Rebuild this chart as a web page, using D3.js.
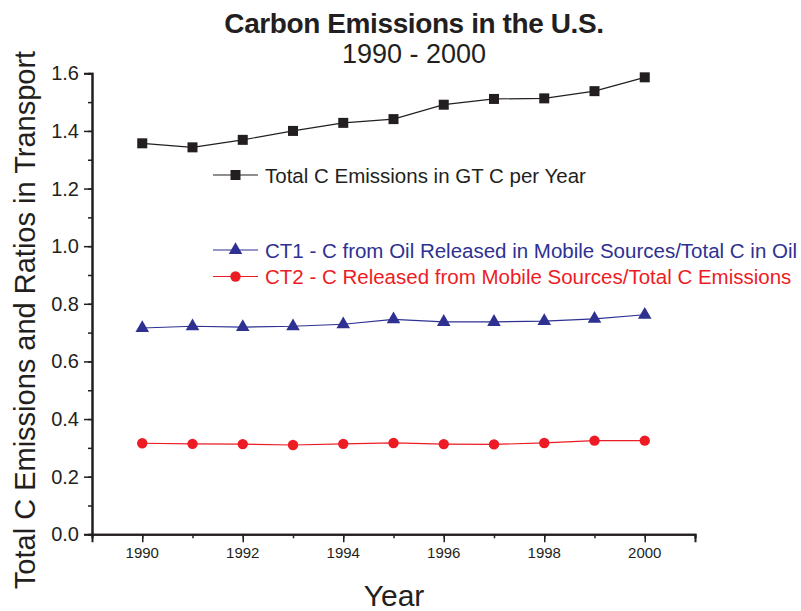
<!DOCTYPE html>
<html lang="en">
<head>
  <meta charset="utf-8">
  <title>Carbon Emissions in the U.S.</title>
  <script src="https://d3js.org/d3.v7.min.js"></script>
  <style>
    body { margin: 0; background: #fff; }
    text { font-family: "Liberation Sans", Arial, sans-serif; }
  </style>
</head>
<body>
	<script type="text/javascript">

	var svg_width = 801;
	var svg_height = 611;

	// data
	var years = [1990, 1991, 1992, 1993, 1994, 1995, 1996, 1997, 1998, 1999, 2000];
	var totalC = [1.357, 1.343, 1.369, 1.400, 1.428, 1.441, 1.491, 1.511, 1.513, 1.538, 1.586];
	var ct1 = [0.716, 0.722, 0.719, 0.722, 0.729, 0.746, 0.737, 0.737, 0.740, 0.748, 0.762];
	var ct2 = [0.316, 0.314, 0.313, 0.310, 0.314, 0.317, 0.313, 0.312, 0.317, 0.325, 0.325];
	var xTicks = [1990, 1992, 1994, 1996, 1998, 2000];
	var yTicks = [0.0, 0.2, 0.4, 0.6, 0.8, 1.0, 1.2, 1.4, 1.6];

	var seriesNames = ["Total C Emissions in GT C per Year",
		"CT1 - C from Oil Released in Mobile Sources/Total C in Oil",
		"CT2 - C Released from Mobile Sources/Total C Emissions"];

	var black = "#231f20", blue = "#2e3192", red = "#ed1c24";

	var series = [
		{ name: seriesNames[0], values: totalC, color: black, shape: "square" },
		{ name: seriesNames[1], values: ct1, color: blue, shape: "triangle" },
		{ name: seriesNames[2], values: ct2, color: red, shape: "circle" }
	];

	var svg = d3.select("body")
				.append("svg")
				.attr("width", svg_width)
				.attr("height", svg_height);

	var x = d3.scaleLinear().domain([1989, 2001]).range([92, 695]);
	var y = d3.scaleLinear().domain([0, 1.6]).range([534.3, 73.3]);

	// axes: minor ticks from one axis, major ticks from another
	var xMinor = svg.append("g").attr("transform", "translate(0," + y(0) + ")")
		.call(d3.axisBottom(x).tickValues(d3.range(1989, 2002)).tickSize(4).tickFormat(""));
	var xMajor = svg.append("g").attr("transform", "translate(0," + y(0) + ")")
		.call(d3.axisBottom(x).tickValues(xTicks).tickSize(8).tickFormat(""));

	var yMinor = svg.append("g").attr("transform", "translate(" + x(1989) + ",0)")
		.call(d3.axisLeft(y).tickValues(d3.range(0, 17).map(function(i) { return i / 10; })).tickSize(4).tickFormat(""));
	var yMajor = svg.append("g").attr("transform", "translate(" + x(1989) + ",0)")
		.call(d3.axisLeft(y).tickValues(yTicks).tickSize(8).tickFormat(""));

	[xMinor, xMajor, yMinor, yMajor].forEach(function(a) {
		a.selectAll("path").attr("stroke-width", 2).attr("stroke", black);
		a.selectAll("line").attr("stroke-width", 1.5).attr("stroke", black);
	});

	// tick labels
	svg.append("g").selectAll("text")
		.data(xTicks)
		.enter()
			.append("text")
			.text(function(d) { return d; })
			.attr("x", function(d) { return x(d); })
			.attr("y", y(0) + 24)
			.attr("text-anchor", "middle")
			.style("font-size", "15px")
			.attr("fill", black);

	svg.append("g").selectAll("text")
		.data(yTicks)
		.enter()
			.append("text")
			.text(function(d) { return d3.format(".1f")(d); })
			.attr("x", x(1989) - 13)
			.attr("y", function(d) { return y(d) + 7; })
			.attr("text-anchor", "end")
			.style("font-size", "20px")
			.attr("fill", black);

	function drawMarker(g, shape, color, cx, cy) {
		if (shape === "square") {
			g.append("rect").attr("x", cx - 5).attr("y", cy - 5).attr("width", 10).attr("height", 10).attr("fill", color);
		} else if (shape === "triangle") {
			g.append("path").attr("d", d3.symbol(d3.symbolTriangle, 80)()).attr("transform", "translate(" + cx + "," + cy + ")").attr("fill", color);
		} else {
			g.append("circle").attr("cx", cx).attr("cy", cy).attr("r", 5.2).attr("fill", color);
		}
	}

	var line = d3.line()
		.x(function(d, i) { return x(years[i]); })
		.y(function(d) { return y(d); });

	series.forEach(function(s) {
		var g = svg.append("g");
		g.append("path")
			.attr("d", line(s.values))
			.attr("fill", "none")
			.attr("stroke", s.color)
			.attr("stroke-width", 1.2);
		s.values.forEach(function(v, i) {
			drawMarker(g, s.shape, s.color, x(years[i]), y(v));
		});
	});

	// legend
	var legendY = [175, 250, 276.5];
	series.forEach(function(s, i) {
		var g = svg.append("g").attr("transform", "translate(213," + legendY[i] + ")");
		g.append("line").attr("x1", 0).attr("x2", 45).attr("y1", 0).attr("y2", 0)
			.attr("stroke", s.color).attr("stroke-width", 1.2);
		drawMarker(g, s.shape, s.color, 22.5, 0);
		g.append("text").attr("x", 52).attr("y", 7.5).style("font-size", "20.5px")
			.attr("fill", s.color).text(s.name);
	});

	// titles
	svg.append("text").attr("x", 414).attr("y", 33).attr("text-anchor", "middle")
		.style("font-size", "28px").attr("font-weight", "bold").attr("letter-spacing", -0.4)
		.attr("fill", black).text("Carbon Emissions in the U.S.");
	svg.append("text").attr("x", 414).attr("y", 63).attr("text-anchor", "middle")
		.style("font-size", "27px").attr("fill", black).text("1990 - 2000");

	svg.append("text").attr("x", 394).attr("y", 606).attr("text-anchor", "middle")
		.style("font-size", "30px").attr("fill", black).text("Year");
	svg.append("text").attr("transform", "translate(35,320) rotate(-90)").attr("text-anchor", "middle")
		.style("font-size", "29px").attr("fill", black).text("Total C Emissions and Ratios in Transport");

	</script>
</body>
</html>
